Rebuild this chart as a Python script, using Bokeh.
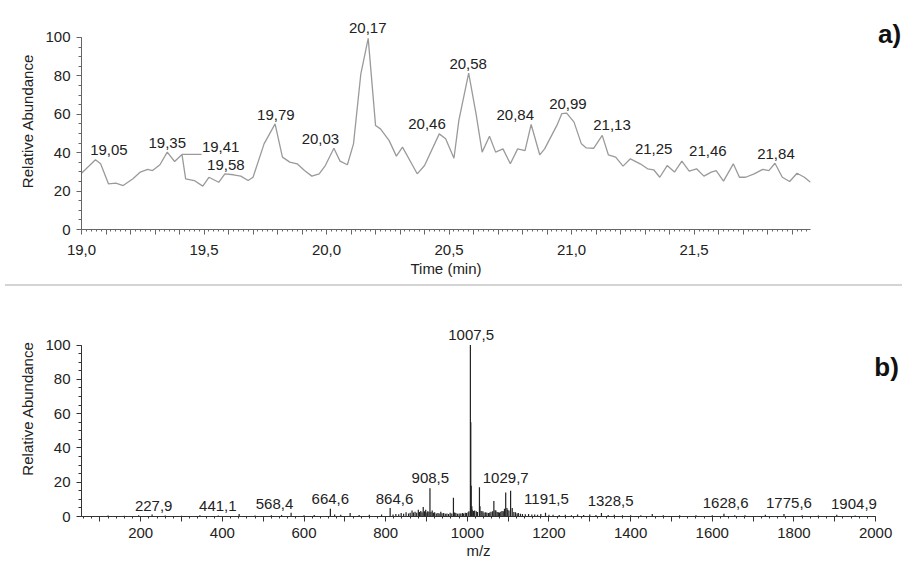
from bokeh.plotting import figure
from bokeh.models import SingleIntervalTicker, CustomJSTickFormatter, ColumnDataSource, Div
from bokeh.layouts import row
from bokeh.embed import file_html
from bokeh.resources import INLINE
from bokeh.core.properties import value

FONT = "Liberation Sans"

# ---------------- panel a) chromatogram ----------------
time_min = [19.00, 19.057, 19.078, 19.11, 19.14, 19.17, 19.21, 19.24, 19.27, 19.29,
            19.32, 19.35, 19.38, 19.41, 19.425, 19.46, 19.495, 19.52, 19.56, 19.585,
            19.62, 19.65, 19.68, 19.70, 19.745, 19.79, 19.82, 19.85, 19.88, 19.91,
            19.94, 19.97, 19.995, 20.03, 20.055, 20.085, 20.11, 20.14, 20.17, 20.20,
            20.22, 20.255, 20.285, 20.31, 20.37, 20.40, 20.46, 20.486, 20.52, 20.54,
            20.58, 20.61, 20.635, 20.665, 20.69, 20.72, 20.75, 20.78, 20.81, 20.835,
            20.87, 20.89, 20.94, 20.96, 20.98, 21.01, 21.04, 21.06, 21.09, 21.125,
            21.15, 21.18, 21.21, 21.24, 21.28, 21.31, 21.335, 21.36, 21.39, 21.42,
            21.45, 21.48, 21.51, 21.54, 21.57, 21.59, 21.62, 21.66, 21.685, 21.71,
            21.745, 21.78, 21.805, 21.83, 21.86, 21.89, 21.92, 21.95, 21.975]
abundance_a = [29.3, 36.3, 34.2, 23.8, 24.1, 22.9, 26.4, 29.9, 31.3, 30.7,
               33.7, 40.3, 35.4, 39.1, 26.4, 25.5, 22.6, 27.2, 24.6, 29.0,
               28.5, 27.8, 25.5, 27.2, 44.6, 55.0, 37.7, 35.1, 34.2, 30.7,
               27.8, 29.0, 33.3, 42.3, 35.6, 33.7, 44.6, 81.1, 99.5, 54.2,
               52.4, 46.4, 38.2, 42.9, 29.0, 33.3, 49.8, 47.2, 37.1, 56.8,
               81.4, 60.3, 40.3, 48.6, 40.3, 42.0, 34.2, 42.0, 41.1, 54.7,
               38.9, 42.0, 54.2, 60.3, 60.6, 55.9, 44.6, 42.5, 42.3, 49.0,
               38.9, 37.7, 33.0, 36.8, 34.2, 31.6, 31.1, 27.2, 33.3, 29.9,
               35.6, 30.4, 31.6, 27.8, 29.9, 30.7, 25.2, 34.2, 27.2, 27.2,
               29.0, 31.3, 30.7, 34.5, 27.2, 25.0, 29.3, 27.2, 24.6]

peak_text_a = ["19,05", "19,35", "19,41", "19,58", "19,79", "20,03", "20,17", "20,46",
               "20,58", "20,84", "20,99", "21,13", "21,25", "21,46", "21,84"]
peak_label_t = [19.112, 19.35, 19.568, 19.589, 19.793, 19.975, 20.168, 20.41,
                20.578, 20.77, 20.985, 21.165, 21.335, 21.556, 21.834]
peak_label_v = [41.3, 44.8, 43.2, 33.7, 59.8, 47.2, 104.9, 55.0,
                86.3, 59.4, 65.5, 54.2, 42.0, 41.1, 39.4]
leader_t = [19.41, 19.49]
leader_v = [39.1, 39.1]

# ---------------- panel b) mass spectrum ----------------
mz = [120, 160, 195, 227.9, 260, 300, 345, 390, 441.1, 480,
      520, 545, 568.4, 600, 625, 664.6, 675, 690, 713, 735,
      760, 790, 811, 818, 825, 832, 838, 844, 850, 856,
      860, 864.6, 868, 872, 876, 880, 883, 886, 889, 892,
      895, 898, 901, 903, 906, 908.5, 911, 914, 917, 920,
      924, 928, 931, 935, 938, 942, 946, 950, 954, 958,
      962, 966, 969, 972, 976, 980, 984, 988, 991, 995,
      998, 1002, 1004, 1007.5, 1008.5, 1009.5, 1011, 1012, 1015, 1018,
      1022, 1025, 1029.7, 1031, 1034, 1038, 1041, 1045, 1048, 1052,
      1055, 1058, 1062, 1065, 1068, 1070, 1073, 1076, 1079, 1082,
      1085, 1088, 1091, 1094, 1097, 1099, 1102, 1106, 1110, 1114,
      1118, 1122, 1125, 1130, 1135, 1142, 1150, 1158, 1165, 1172,
      1180, 1191.5, 1200, 1210, 1225, 1240, 1255, 1270, 1285, 1300,
      1315, 1328.5, 1345, 1360, 1380, 1400, 1425, 1453, 1480, 1520,
      1560, 1600, 1628.6, 1655, 1680, 1730, 1775.6, 1820, 1860, 1904.9,
      1950]
abundance_b = [0.6, 0.5, 0.7, 1.2, 0.6, 0.5, 0.7, 0.6, 1.5, 0.6,
               0.8, 0.9, 2.2, 0.8, 0.9, 4.5, 1.2, 1.0, 2.0, 0.9,
               1.0, 1.2, 5.0, 1.2, 1.5, 1.3, 2.0, 1.6, 2.5, 1.8,
               2.2, 3.5, 2.4, 2.8, 2.2, 4.0, 2.6, 3.2, 2.5, 5.5,
               3.0, 4.0, 2.4, 3.0, 2.8, 16.5, 2.6, 3.5, 2.2, 2.5,
               1.8, 2.0, 1.7, 2.8, 1.9, 2.0, 1.6, 1.8, 1.5, 2.2,
               1.8, 11.0, 2.3, 2.0, 1.6, 1.8, 1.7, 2.0, 1.8, 2.2,
               2.0, 2.5, 3.0, 100.0, 55.0, 18.0, 6.0, 4.0, 3.2, 3.5,
               3.0, 2.6, 17.0, 6.0, 3.2, 3.0, 2.4, 2.5, 2.2, 2.0,
               2.3, 2.8, 3.0, 9.0, 3.6, 3.5, 2.6, 2.5, 2.4, 2.8,
               3.2, 3.0, 4.5, 14.0, 5.0, 4.0, 3.5, 15.0, 5.0, 2.6,
               2.5, 1.8, 2.0, 1.6, 1.5, 1.3, 1.5, 1.2, 1.2, 1.0,
               1.5, 2.2, 1.0, 1.0, 0.9, 1.0, 0.8, 1.2, 0.9, 1.2,
               0.9, 2.0, 0.9, 1.0, 0.8, 0.8, 0.7, 1.5, 0.8, 0.8,
               0.7, 0.8, 1.6, 0.7, 0.8, 1.0, 1.4, 0.7, 0.6, 1.0,
               0.6]

peak_text_b = ["227,9", "441,1", "568,4", "664,6", "864,6", "908,5", "1007,5", "1029,7",
               "1191,5", "1328,5", "1628,6", "1775,6", "1904,9"]
peak_label_mz = [231.8, 389.0, 527.8, 664.5, 821.7, 909.4, 1009.4, 1094.0,
                 1193.9, 1351.0, 1632.8, 1787.8, 1947.0]
peak_label_vb = [6.2, 6.2, 7.4, 10.3, 10.3, 22.6, 105.8, 22.6,
                 10.0, 9.1, 8.1, 8.1, 7.1]

panel_b_tag = ["b)"]
panel_b_tag_mz = [2027]
panel_b_tag_v = [87.5]

TXT = "#222222"


def style_axes(p, axis_color):
    for ax in (p.xaxis[0], p.yaxis[0]):
        ax.axis_line_color = axis_color
        ax.major_tick_line_color = axis_color
        ax.minor_tick_line_color = axis_color
        ax.major_tick_in = 0
        ax.minor_tick_in = 0
        ax.major_label_text_font = FONT
        ax.major_label_text_font_size = "15px"
        ax.major_label_text_color = TXT
        ax.axis_label_text_font = FONT
        ax.axis_label_text_font_size = "15px"
        ax.axis_label_text_font_style = "normal"
        ax.axis_label_text_color = TXT
    p.yaxis[0].ticker = SingleIntervalTicker(interval=20, num_minor_ticks=4)
    p.yaxis[0].bounds = (0, 100)
    p.yaxis[0].major_tick_out = 5
    p.yaxis[0].minor_tick_out = 3
    p.yaxis[0].major_label_standoff = 6
    p.yaxis[0].axis_label = "Relative Abundance"
    p.yaxis[0].axis_label_standoff = 6
    p.xgrid.visible = False
    p.ygrid.visible = False
    p.outline_line_color = None


# ---- figure a ----
p1 = figure(width=818, height=279, output_backend="svg", toolbar_location=None,
            x_range=(19.0, 21.975), y_range=(0, 113),
            min_border_left=81, min_border_right=8, min_border_top=12, min_border_bottom=50)
style_axes(p1, "#666666")
p1.xaxis[0].ticker = SingleIntervalTicker(interval=0.1, num_minor_ticks=5)
p1.xaxis[0].formatter = CustomJSTickFormatter(
    code="const r = Math.round(tick*10); return (r % 5 === 0) ? (r/10).toFixed(1).replace('.', ',') : '';")
p1.xaxis[0].major_tick_out = 5
p1.xaxis[0].minor_tick_out = 2
p1.xaxis[0].major_label_standoff = 10
p1.xaxis[0].axis_label = "Time (min)"
p1.xaxis[0].axis_label_standoff = 2

p1.line(time_min, abundance_a, line_color="#9a9a9a", line_width=1.3)
p1.line(leader_t, leader_v, line_color="#9a9a9a", line_width=1.2)
src_a = ColumnDataSource(dict(x=peak_label_t, y=peak_label_v, t=peak_text_a))
p1.text(x="x", y="y", text="t", source=src_a, text_align="center", text_baseline="middle",
        text_font=value(FONT), text_font_size="15px", text_color=TXT)

tag_a = Div(text=('<span style="display:inline-block;margin-left:55px;margin-top:14px;'
                  "font-family:'Liberation Sans',Arial,sans-serif;font-size:26px;"
                  'font-weight:bold;line-height:30px;color:#111111">a)</span>'),
            width=84, height=60)

# ---- separator ----
sep = Div(width=902, height=2, styles={"background-color": "#d4d4d4"})

# ---- figure b ----
p2 = figure(width=902, height=271, output_backend="svg", toolbar_location=None,
            x_range=(55, 2061), y_range=(0, 126),
            min_border_left=81, min_border_right=2, min_border_top=9, min_border_bottom=46)
style_axes(p2, "#333333")
p2.xaxis[0].bounds = (55, 2000)
p2.xaxis[0].ticker = SingleIntervalTicker(interval=100, num_minor_ticks=5)
p2.xaxis[0].formatter = CustomJSTickFormatter(
    code="const r = Math.round(tick); return (r % 200 === 0) ? r.toString() : '';")
p2.xaxis[0].major_tick_out = 5
p2.xaxis[0].minor_tick_out = 2
p2.xaxis[0].major_label_standoff = 6
p2.xaxis[0].axis_label = "m/z\u00a0\u00a0\u00a0\u00a0\u00a0\u00a0"
p2.xaxis[0].axis_label_standoff = 1

p2.segment(x0=mz, y0=[0] * len(mz), x1=mz, y1=abundance_b, line_color="#222222", line_width=1.2)
src_b = ColumnDataSource(dict(x=peak_label_mz, y=peak_label_vb, t=peak_text_b))
p2.text(x="x", y="y", text="t", source=src_b, text_align="center", text_baseline="middle",
        text_font=value(FONT), text_font_size="15px", text_color=TXT)
src_tag = ColumnDataSource(dict(x=panel_b_tag_mz, y=panel_b_tag_v, t=panel_b_tag))
p2.text(x="x", y="y", text="t", source=src_tag, text_align="center", text_baseline="middle",
        text_font=value(FONT), text_font_size="26px", text_font_style="bold", text_color="#111111")

open("out.html", "w").write(file_html([row(p1, tag_a), sep, p2], INLINE))
